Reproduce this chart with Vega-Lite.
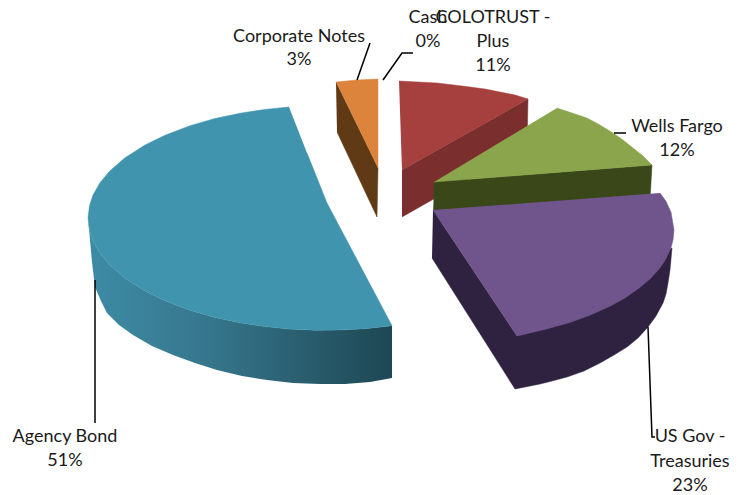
{
"$schema":"https://vega.github.io/schema/vega-lite/v6.json",
"width":744,"height":495,"autosize":{"type":"fit","contains":"padding"},"padding":0,
"background":"white","view":{"stroke":null},
"datasets":{
"agencySide":[
{"i":1,"x":88,"y":218},{"i":2,"x":89.5,"y":230.6},{"i":3,"x":93,"y":241},{"i":4,"x":100,"y":253.3},{"i":5,"x":110,"y":265.3},{"i":6,"x":125,"y":278.3},{"i":7,"x":145,"y":291},{"i":8,"x":165,"y":300.8},{"i":9,"x":190,"y":310.3},{"i":10,"x":215,"y":317.5},{"i":11,"x":240,"y":322.8},{"i":12,"x":265,"y":326.6},{"i":13,"x":289,"y":329},{"i":14,"x":315,"y":330.2},{"i":15,"x":340,"y":330},{"i":16,"x":365,"y":328.7},{"i":17,"x":392,"y":325.7},
{"i":18,"x":392,"y":378},{"i":19,"x":370,"y":382},{"i":20,"x":345,"y":384},{"i":21,"x":320,"y":384},{"i":22,"x":293,"y":383},{"i":23,"x":267,"y":380},{"i":24,"x":242,"y":376},{"i":25,"x":217,"y":370},{"i":26,"x":195,"y":363},{"i":27,"x":173,"y":355},{"i":28,"x":152,"y":346},{"i":29,"x":133,"y":335},{"i":30,"x":119,"y":325},{"i":31,"x":107,"y":313},{"i":32,"x":101,"y":301},{"i":33,"x":95,"y":287},{"i":34,"x":92,"y":262}
],
"shapes":[
{"part":"Agency top","i":1,"x":289,"y":107},{"part":"Agency top","i":2,"x":265,"y":109.4},{"part":"Agency top","i":3,"x":240,"y":113.2},{"part":"Agency top","i":4,"x":215,"y":118.5},{"part":"Agency top","i":5,"x":190,"y":125.7},{"part":"Agency top","i":6,"x":165,"y":135.2},{"part":"Agency top","i":7,"x":145,"y":145},{"part":"Agency top","i":8,"x":125,"y":157.7},{"part":"Agency top","i":9,"x":110,"y":170.7},{"part":"Agency top","i":10,"x":100,"y":182.7},{"part":"Agency top","i":11,"x":93,"y":195},{"part":"Agency top","i":12,"x":89.5,"y":205.4},{"part":"Agency top","i":13,"x":88,"y":218},{"part":"Agency top","i":14,"x":89.5,"y":230.6},{"part":"Agency top","i":15,"x":93,"y":241},{"part":"Agency top","i":16,"x":100,"y":253.3},{"part":"Agency top","i":17,"x":110,"y":265.3},{"part":"Agency top","i":18,"x":125,"y":278.3},{"part":"Agency top","i":19,"x":145,"y":291},{"part":"Agency top","i":20,"x":165,"y":300.8},{"part":"Agency top","i":21,"x":190,"y":310.3},{"part":"Agency top","i":22,"x":215,"y":317.5},{"part":"Agency top","i":23,"x":240,"y":322.8},{"part":"Agency top","i":24,"x":265,"y":326.6},{"part":"Agency top","i":25,"x":289,"y":329},{"part":"Agency top","i":26,"x":315,"y":330.2},{"part":"Agency top","i":27,"x":340,"y":330},{"part":"Agency top","i":28,"x":365,"y":328.7},{"part":"Agency top","i":29,"x":392,"y":325.7},{"part":"Agency top","i":30,"x":327,"y":203},{"part":"Agency top","i":31,"x":307,"y":153},
{"part":"Corporate side","i":1,"x":336,"y":82},{"part":"Corporate side","i":2,"x":378,"y":168},{"part":"Corporate side","i":3,"x":377,"y":217},{"part":"Corporate side","i":4,"x":337,"y":132},
{"part":"Corporate top","i":1,"x":336,"y":82},{"part":"Corporate top","i":2,"x":357,"y":80},{"part":"Corporate top","i":3,"x":378,"y":79},{"part":"Corporate top","i":4,"x":378,"y":168},
{"part":"Colotrust side","i":1,"x":402,"y":170},{"part":"Colotrust side","i":2,"x":528,"y":99},{"part":"Colotrust side","i":3,"x":527,"y":146},{"part":"Colotrust side","i":4,"x":402,"y":217},
{"part":"Colotrust top","i":1,"x":399,"y":81},{"part":"Colotrust top","i":2,"x":418,"y":82},{"part":"Colotrust top","i":3,"x":437,"y":83},{"part":"Colotrust top","i":4,"x":454,"y":85},{"part":"Colotrust top","i":5,"x":470,"y":87},{"part":"Colotrust top","i":6,"x":485,"y":89},{"part":"Colotrust top","i":7,"x":500,"y":92},{"part":"Colotrust top","i":8,"x":515,"y":95},{"part":"Colotrust top","i":9,"x":528,"y":99},{"part":"Colotrust top","i":10,"x":402,"y":170},
{"part":"Wells side","i":1,"x":434,"y":182},{"part":"Wells side","i":2,"x":652,"y":165},{"part":"Wells side","i":3,"x":650,"y":200},{"part":"Wells side","i":4,"x":433,"y":218},
{"part":"Wells top","i":1,"x":557,"y":108},{"part":"Wells top","i":2,"x":572,"y":113},{"part":"Wells top","i":3,"x":587,"y":118},{"part":"Wells top","i":4,"x":600,"y":125},{"part":"Wells top","i":5,"x":613,"y":133},{"part":"Wells top","i":6,"x":623,"y":140},{"part":"Wells top","i":7,"x":633,"y":148},{"part":"Wells top","i":8,"x":643,"y":156},{"part":"Wells top","i":9,"x":652,"y":165},{"part":"Wells top","i":10,"x":434,"y":182},
{"part":"Treasuries side","i":1,"x":433,"y":210},{"part":"Treasuries side","i":2,"x":517,"y":336},{"part":"Treasuries side","i":3,"x":672,"y":248},{"part":"Treasuries side","i":4,"x":670,"y":270},{"part":"Treasuries side","i":5,"x":668,"y":283},{"part":"Treasuries side","i":6,"x":666,"y":294},{"part":"Treasuries side","i":7,"x":663,"y":303},{"part":"Treasuries side","i":8,"x":656,"y":316},{"part":"Treasuries side","i":9,"x":648,"y":327},{"part":"Treasuries side","i":10,"x":638,"y":338},{"part":"Treasuries side","i":11,"x":627,"y":347},{"part":"Treasuries side","i":12,"x":614,"y":355},{"part":"Treasuries side","i":13,"x":600,"y":363},{"part":"Treasuries side","i":14,"x":584,"y":371},{"part":"Treasuries side","i":15,"x":567,"y":377},{"part":"Treasuries side","i":16,"x":552,"y":381},{"part":"Treasuries side","i":17,"x":540,"y":384},{"part":"Treasuries side","i":18,"x":515,"y":389},{"part":"Treasuries side","i":19,"x":432,"y":258},
{"part":"Treasuries top","i":1,"x":660,"y":193},{"part":"Treasuries top","i":2,"x":666,"y":201.3},{"part":"Treasuries top","i":3,"x":671,"y":212.3},{"part":"Treasuries top","i":4,"x":674,"y":230},{"part":"Treasuries top","i":5,"x":673,"y":240},{"part":"Treasuries top","i":6,"x":671,"y":247.7},{"part":"Treasuries top","i":7,"x":666,"y":258.7},{"part":"Treasuries top","i":8,"x":660,"y":268},{"part":"Treasuries top","i":9,"x":650,"y":278.9},{"part":"Treasuries top","i":10,"x":640,"y":287.5},{"part":"Treasuries top","i":11,"x":625,"y":297.9},{"part":"Treasuries top","i":12,"x":610,"y":306.3},{"part":"Treasuries top","i":13,"x":590,"y":315.2},{"part":"Treasuries top","i":14,"x":570,"y":322.4},{"part":"Treasuries top","i":15,"x":545,"y":329.4},{"part":"Treasuries top","i":16,"x":517,"y":336},{"part":"Treasuries top","i":17,"x":433,"y":210}
],
"leaders":[
{"s":"Corporate Notes","i":1,"x":370,"y":43},{"s":"Corporate Notes","i":2,"x":357,"y":80},
{"s":"Cash","i":1,"x":413,"y":53},{"s":"Cash","i":2,"x":402,"y":53},{"s":"Cash","i":3,"x":383,"y":80},
{"s":"Wells Fargo","i":1,"x":614,"y":133},{"s":"Wells Fargo","i":2,"x":626,"y":133},
{"s":"US Gov","i":1,"x":648,"y":327},{"s":"US Gov","i":2,"x":652,"y":437},{"s":"US Gov","i":3,"x":655,"y":437},
{"s":"Agency Bond","i":1,"x":95,"y":280},{"s":"Agency Bond","i":2,"x":95,"y":423}
],
"labels":[
{"t":"Corporate Notes","x":299,"y":37},{"t":"3%","x":299,"y":60},
{"t":"Cash","x":428,"y":18},{"t":"0%","x":428,"y":42},
{"t":"COLOTRUST -","x":493,"y":18},{"t":"Plus","x":493,"y":42},{"t":"11%","x":493,"y":66},
{"t":"Wells Fargo","x":677,"y":127},{"t":"12%","x":677,"y":151},
{"t":"US Gov -","x":690,"y":437},{"t":"Treasuries","x":690,"y":462},{"t":"23%","x":690,"y":486},
{"t":"Agency Bond","x":65,"y":437},{"t":"51%","x":65,"y":461}
]
},
"encoding":{
"x":{"field":"x","type":"quantitative","scale":{"domain":[0,744],"nice":false,"zero":false},"axis":null},
"y":{"field":"y","type":"quantitative","scale":{"domain":[495,0],"nice":false,"zero":false},"axis":null}
},
"layer":[
{"data":{"name":"agencySide"},
"mark":{"type":"line","strokeWidth":0,"fill":{"gradient":"linear","x1":0,"y1":0,"x2":1,"y2":0,"stops":[{"offset":0,"color":"#3d8ba5"},{"offset":0.4,"color":"#36768c"},{"offset":1,"color":"#1e4753"}]}},
"encoding":{"order":{"field":"i","type":"quantitative"}}},
{"data":{"name":"shapes"},
"mark":{"type":"line","strokeWidth":0.5},
"encoding":{
"order":{"field":"i","type":"quantitative"},
"fill":{"field":"part","type":"nominal","legend":null,"scale":{"domain":["Agency top","Corporate side","Corporate top","Colotrust side","Colotrust top","Wells side","Wells top","Treasuries side","Treasuries top"],"range":["#4194ae","#5f3a14","#dd843c","#7a2e2e","#a6403f","#3a4719","#8aa54b","#2f2240","#70548c"]}},
"stroke":{"field":"part","type":"nominal","legend":null,"scale":{"domain":["Agency top","Corporate side","Corporate top","Colotrust side","Colotrust top","Wells side","Wells top","Treasuries side","Treasuries top"],"range":["#4194ae","#5f3a14","#dd843c","#7a2e2e","#a6403f","#3a4719","#8aa54b","#2f2240","#70548c"]}}
}},
{"data":{"name":"leaders"},"mark":{"type":"line","color":"black","strokeWidth":1.5},
"encoding":{"detail":{"field":"s"},"order":{"field":"i","type":"quantitative"}}},
{"data":{"name":"labels"},"mark":{"type":"text","font":"Lato","fontSize":18,"color":"#1a1a1a","align":"center","baseline":"middle"},
"encoding":{"text":{"field":"t"}}}
]
}
